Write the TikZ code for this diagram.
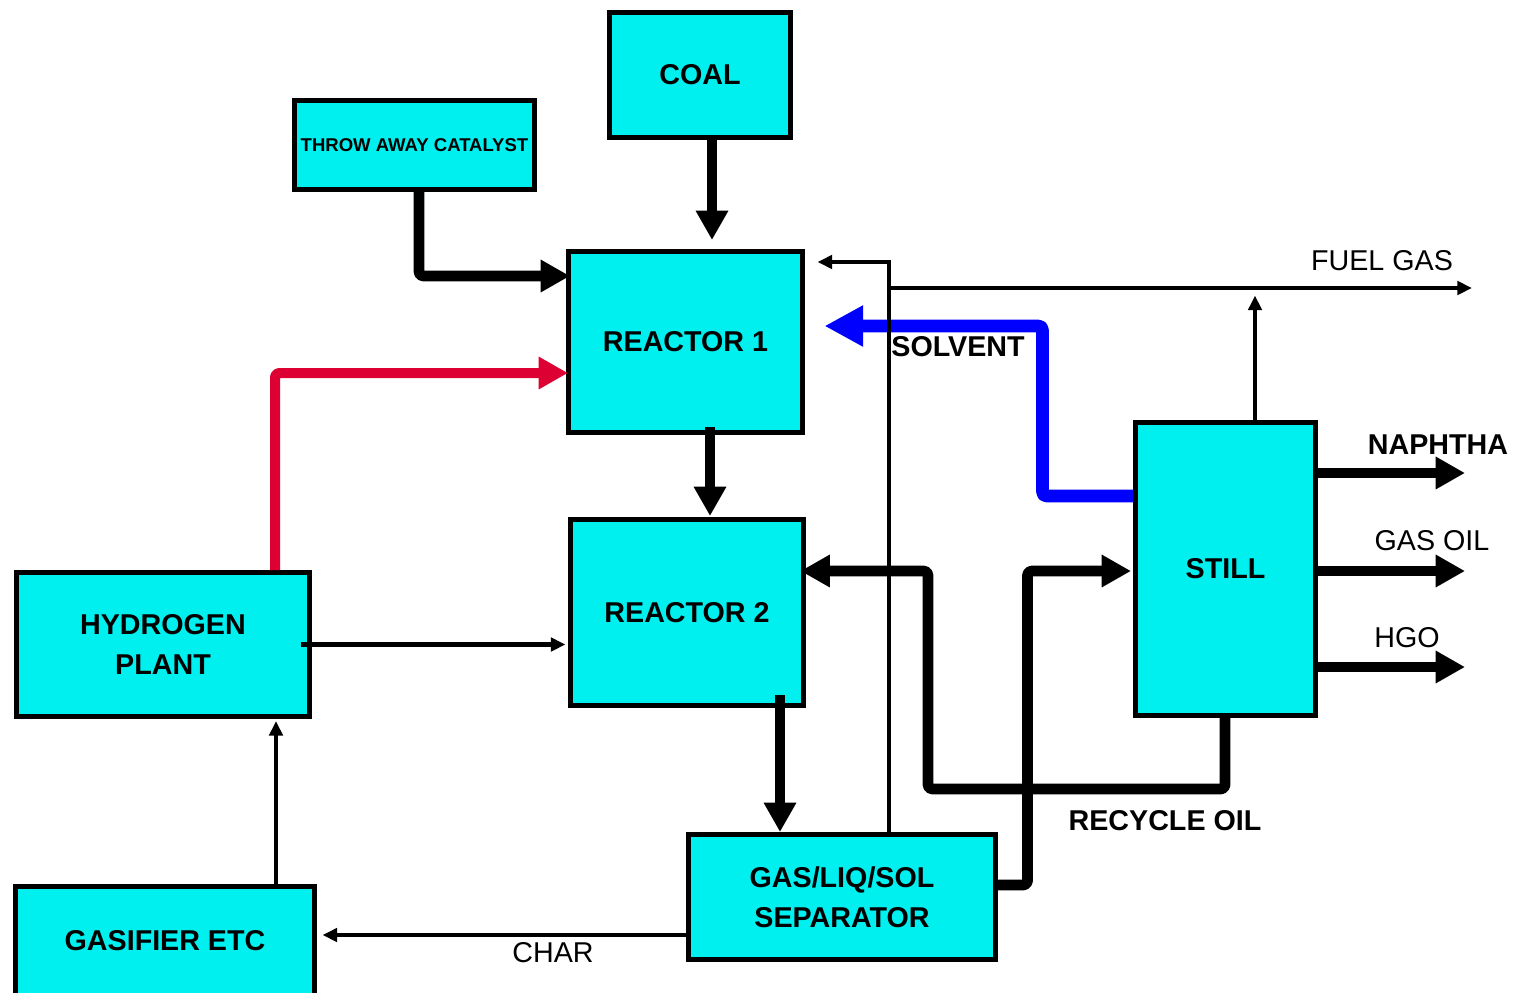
\documentclass[tikz,border=0pt]{standalone}
\usepackage{fontspec}
\setmainfont{Liberation Sans}
\usetikzlibrary{arrows.meta,calc}
\definecolor{boxcyan}{RGB}{0,239,239}
\definecolor{flowred}{RGB}{221,0,51}
\definecolor{flowblue}{RGB}{0,0,255}
\begin{document}
\begin{tikzpicture}[x=0.75pt,y=-0.75pt,
  box/.style={draw=black, line width=3.75pt, fill=boxcyan, inner sep=0pt,
    font=\bfseries\fontsize{21.5}{30}\selectfont, align=center},
  thickflow/.style={line width=8pt, line join=round, rounded corners=3pt,
    -{Triangle[length=22pt,width=23pt]}},
  thinflow/.style={line width=3.3pt, -{Triangle[length=11pt,width=10pt]}},
  lbl/.style={inner sep=0pt, font=\fontsize{21.5}{26}\selectfont},
  blbl/.style={inner sep=0pt, font=\bfseries\fontsize{21.5}{26}\selectfont}]
\useasboundingbox (0,0) rectangle (1516,992);

% boxes
\node[box, minimum width=135.75pt, minimum height=93.75pt] (coal) at (700,75) {COAL};
\node[box, minimum width=180pt, minimum height=66.75pt,
  font=\bfseries\fontsize{13.9}{16}\selectfont] (cat) at (414.5,145) {THROW AWAY CATALYST};
\node[box, minimum width=175.5pt, minimum height=135.75pt] (r1) at (685.5,342) {REACTOR 1};
\node[box, minimum width=174.75pt, minimum height=139.5pt] (r2) at (687,612.5) {REACTOR 2};
\node[box, minimum width=219.75pt, minimum height=108pt] (hyd) at (163,644.5) {HYDROGEN\\PLANT};
\node[box, minimum width=224.25pt, minimum height=81.75pt] (gas) at (165,941) {GASIFIER ETC};
\node[box, minimum width=230.25pt, minimum height=93.75pt] (sep) at (842,897) {GAS/LIQ/SOL\\SEPARATOR};
\node[box, minimum width=135pt, minimum height=219.75pt] (still) at (1225.5,569) {STILL};

% named junctions / free ends
\coordinate (fj) at (889,288);
\coordinate (fgend) at (1472,288);
\coordinate (rc) at (928,789);

% connectors
\draw[thickflow] ($(coal.south)+(12,0)$) -- ($(r1.north)+(26.5,-9)$);
\draw[thickflow] ($(cat.south)+(4.5,0)$) |- ($(r1.west)+(4,-66)$);
\draw[thickflow, line width=7.5pt, color=flowred] ($(hyd.north)+(112,0)$) |- ($(r1.west)+(2,31)$);
\draw[flowblue, line width=9.5pt, line join=round, rounded corners=3pt,
  -{Triangle[length=29pt,width=29pt]}]
  ($(still.west)+(0,-73)$) -| ($(r1.east)+(237.5,-16)$) -- ($(r1.east)+(19.5,-16)$);
\draw[thinflow] ($(sep.north)+(47,0)$) |- ($(r1.east)+(12.5,-80)$);
\draw[thinflow] (fj) -- (fgend);
\draw[thinflow] ($(still.north)+(29.5,0)$) -- ($(still.north)+(29.5,-124.5)$);
\draw[thickflow] ($(r1.south)+(24.5,-8)$) -- ($(r2.north)+(23,-1)$);
\draw[thickflow] ($(r2.south)+(93,-13)$) -- ($(sep.north)+(-62,0)$);
\draw[thickflow] ($(still.south)+(-0.5,0)$) |- (rc) |- ($(r2.east)+(-5.5,-41.5)$);
\draw[thickflow] ($(sep.east)+(0,-12)$) -| ($(still.west)+(-105.5,2)$) -- ($(still.west)+(-2,2)$);
\draw[thinflow] ($(hyd.east)+(-11.5,0)$) -- ($(r2.west)+(-2.5,32)$);
\draw[thinflow] ($(gas.north)+(111,0)$) -- ($(hyd.south)+(113,2)$);
\draw[thinflow] ($(sep.west)+(0,38)$) -- ($(gas.east)+(5.5,-6)$);
\draw[thickflow] ($(still.east)+(0,-96)$) -- ++(147,0);
\draw[thickflow] ($(still.east)+(0,2)$) -- ++(147,0);
\draw[thickflow] ($(still.east)+(0,98)$) -- ++(147,0);

% labels
\node[lbl] (lfuel) at (1382,261) {FUEL GAS};
\node[blbl] (lsolv) at (958,347) {SOLVENT};
\node[blbl] (lnaph) at (1438,445) {NAPHTHA};
\node[lbl] (lgasoil) at (1432,541) {GAS OIL};
\node[lbl] (lhgo) at (1407,638) {HGO};
\node[blbl] (lrec) at (1165,821) {RECYCLE OIL};
\node[lbl] (lchar) at (553,953) {CHAR};
\end{tikzpicture}
\end{document}
